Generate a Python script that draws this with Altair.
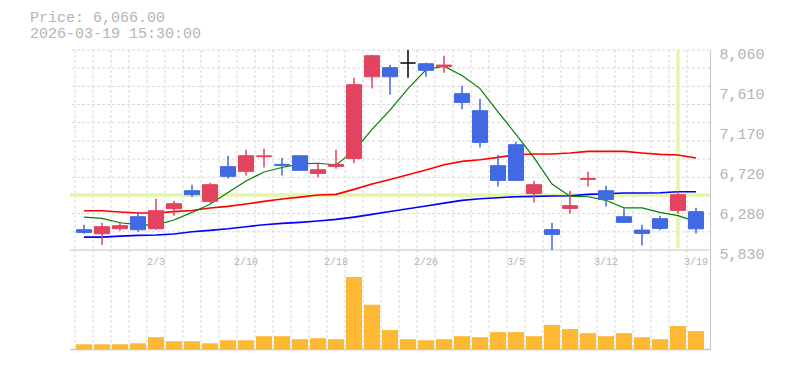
import altair as alt
import pandas as pd

# ---------------- data ----------------
dates = ["2026-01-28", "2026-01-29", "2026-01-30", "2026-02-02", "2026-02-03",
         "2026-02-04", "2026-02-05", "2026-02-06", "2026-02-09", "2026-02-10",
         "2026-02-12", "2026-02-13", "2026-02-16", "2026-02-17", "2026-02-18",
         "2026-02-19", "2026-02-20", "2026-02-24", "2026-02-25", "2026-02-26",
         "2026-02-27", "2026-03-02", "2026-03-03", "2026-03-04", "2026-03-05",
         "2026-03-06", "2026-03-09", "2026-03-10", "2026-03-11", "2026-03-12",
         "2026-03-13", "2026-03-16", "2026-03-17", "2026-03-18", "2026-03-19"]

open_ = [6056, 6011, 6067, 6201, 6067, 6290, 6491, 6372, 6759, 6707,
         6870, 6785, 6881, 6684, 6762, 6851, 7762, 7863, 7915, 7907,
         7874, 7573, 7383, 6770, 7004, 6461, 6056, 6294, 6617, 6491,
         6201, 6052, 6179, 6272, 6257]
high = [6112, 6134, 6145, 6257, 6402, 6379, 6558, 6580, 6881, 6948,
        6959, 6859, 6885, 6803, 6948, 7751, 8007, 7896, 8060, 7918,
        7996, 7662, 7517, 6892, 7037, 6602, 6134, 6491, 6703, 6547,
        6294, 6112, 6212, 6484, 6301]
low = [6011, 5889, 6045, 6034, 6056, 6212, 6417, 6353, 6628, 6662,
       6751, 6662, 6715, 6640, 6740, 6796, 7632, 7565, 7751, 7762,
       7807, 7398, 6974, 6539, 6606, 6361, 5830, 6238, 6539, 6316,
       6138, 5881, 6049, 6238, 6015]
close = [6026, 6090, 6101, 6056, 6268, 6346, 6446, 6558, 6651, 6881,
         6880, 6773, 6718, 6725, 6785, 7673, 7996, 7762, 7915, 7833,
         7892, 7476, 7030, 6606, 6606, 6558, 6004, 6324, 6628, 6394,
         6138, 6015, 6071, 6446, 6066]

ma5 = [6197, 6182, 6134, 6112, 6108, 6164, 6249, 6340, 6470, 6600,
       6700, 6750, 6790, 6797, 6778, 6935, 7175, 7390, 7630, 7840,
       7880, 7775, 7630, 7370, 7120, 6860, 6565, 6430, 6424, 6384,
       6300, 6300, 6250, 6213, 6147]
ma25 = [6268, 6268, 6253, 6242, 6242, 6258, 6270, 6298, 6316, 6342,
        6372, 6398, 6420, 6443, 6450, 6506, 6565, 6617, 6669, 6721,
        6781, 6818, 6837, 6863, 6892, 6900, 6900, 6911, 6930, 6930,
        6930, 6911, 6896, 6889, 6855]
ma75 = [5974, 5974, 5985, 5993, 5997, 6008, 6034, 6049, 6067, 6090,
        6112, 6127, 6138, 6153, 6171, 6197, 6227, 6260, 6290, 6320,
        6353, 6383, 6402, 6413, 6424, 6428, 6432, 6435, 6450, 6458,
        6465, 6465, 6469, 6480, 6480]

volume = [140, 140, 140, 170, 350, 230, 230, 170, 260, 260,
          380, 380, 290, 320, 290, 2130, 1310, 560, 290, 260,
          290, 380, 350, 500, 500, 380, 710, 590, 470, 380,
          470, 350, 290, 680, 530]

x_tick_dates = ["2026-02-03", "2026-02-10", "2026-02-18", "2026-02-26",
                "2026-03-05", "2026-03-12", "2026-03-19"]
x_tick_labels = ["2/3", "2/10", "2/18", "2/26", "3/5", "3/12", "3/19"]

price_ticks = [5830, 6276, 6722, 7168, 7614, 8060]
grid_prices = [5830 + k * (8060 - 5830) / 11 for k in range(1, 12)]

cursor_idx = 33
cursor_price = 6443
header_price = "Price: 6,066.00"
header_time = "2026-03-19 15:30:00"

# ---------------- layout ----------------
n = len(dates)
W, H = 640, 299
PRICE_H = 200
y_top, y_bot = 8060, 5830
y_low = y_bot - (H - PRICE_H) / PRICE_H * (y_top - y_bot)

RED = "#e2435f"
BLUE = "#4169e1"
GRID = "#d9d9d9"
AXIS = "#c4c4c4"
TEXT = "#b4b4b4"
FONT = "Liberation Mono"
CROSS = "#e3f6a9"

df = pd.DataFrame({"idx": list(range(n)), "date": dates, "open": open_,
                   "high": high, "low": low, "close": close,
                   "ma5": ma5, "ma25": ma25, "ma75": ma75, "volume": volume})
df["dir"] = ["up" if c > o else ("down" if c < o else "flat")
             for o, c in zip(open_, close)]

xsc = alt.Scale(domain=[-0.5, n - 0.5], nice=False, zero=False)
xax = alt.Axis(labels=False, ticks=False, grid=False, domain=True,
               domainColor=AXIS, domainWidth=1.5, title=None)
ysc = alt.Scale(domain=[y_low, y_top], nice=False, zero=False)
yax = alt.Axis(orient="right", values=price_ticks,
               labelExpr="format(round(datum.value/10)*10, ',')",
               grid=False, ticks=False, domain=True, domainColor=AXIS,
               labelColor=TEXT, labelFont=FONT, labelFontSize=15,
               labelPadding=9, labelOffset=3, labelBaseline="middle",
               title=None)


def X(f):
    return alt.X(f"{f}:Q", scale=xsc, axis=xax)


def Y(f):
    return alt.Y(f"{f}:Q", scale=ysc, axis=yax)


dir_scale = alt.Scale(domain=["up", "down", "flat"], range=[RED, BLUE, "black"])
color = alt.Color("dir:N", scale=dir_scale, legend=None)

vgrid_df = pd.DataFrame({"gx": [k - 0.5 for k in range(n)]})
vgrid = alt.Chart(vgrid_df).mark_rule(color=GRID, strokeDash=[3, 2], strokeWidth=1).encode(x=X("gx"))

hgrid_df = pd.DataFrame({"gy": grid_prices})
hgrid = alt.Chart(hgrid_df).mark_rule(color=GRID, strokeDash=[3, 2], strokeWidth=1).encode(y=Y("gy"))

base_df = pd.DataFrame({"by": [y_bot]})
baseline = alt.Chart(base_df).mark_rule(color=AXIS, strokeWidth=1.2).encode(y=Y("by"))

ch_df = pd.DataFrame({"cy": [cursor_price]})
cross_h = alt.Chart(ch_df).mark_rule(color=CROSS, strokeWidth=3.5).encode(y=Y("cy"))
cv_df = pd.DataFrame({"cx": [cursor_idx], "top": [y_top], "bot": [y_bot + 20]})
cross_v = alt.Chart(cv_df).mark_rule(color=CROSS, strokeWidth=3.5).encode(
    x=X("cx"), y=Y("top"), y2=alt.Y2("bot"))

base = alt.Chart(df)
l75 = base.mark_line(color="#0000ff", strokeWidth=1.6).encode(x=X("idx"), y=Y("ma75"))
l25 = base.mark_line(color="#ff0000", strokeWidth=1.6).encode(x=X("idx"), y=Y("ma25"))
l5 = base.mark_line(color="#008000", strokeWidth=1.2).encode(x=X("idx"), y=Y("ma5"))

wicks = base.mark_rule(strokeWidth=1.5).encode(x=X("idx"), y=Y("low"), y2=alt.Y2("high"), color=color)
bodies = base.mark_bar(width=15, strokeWidth=1).encode(
    x=X("idx"), y=Y("open"), y2=alt.Y2("close"), color=color,
    stroke=alt.Stroke("dir:N", scale=dir_scale, legend=None))

xl_df = pd.DataFrame({"idx": [dates.index(d) for d in x_tick_dates],
                      "label": x_tick_labels, "ly": [y_bot] * len(x_tick_dates)})
xlabels = alt.Chart(xl_df).mark_text(font=FONT, fontSize=10, color=TEXT,
                                     baseline="middle", dy=12).encode(
    x=X("idx"), y=Y("ly"), text="label:N")

h1 = alt.Chart(pd.DataFrame({"t": [header_price]})).mark_text(
    font=FONT, fontSize=15, color=TEXT, align="left", baseline="alphabetic").encode(
    text="t:N", x=alt.value(-40), y=alt.value(-28))
h2 = alt.Chart(pd.DataFrame({"t": [header_time]})).mark_text(
    font=FONT, fontSize=15, color=TEXT, align="left", baseline="alphabetic").encode(
    text="t:N", x=alt.value(-40), y=alt.value(-12))

price = alt.layer(vgrid, hgrid, baseline, cross_h, cross_v, l75, l25, l5,
                  wicks, bodies, xlabels, h1, h2)

vmax = max(volume)
vol = base.mark_bar(width=16, color="#fdb933").encode(
    x=X("idx"),
    y=alt.Y("volume:Q", scale=alt.Scale(domain=[0, vmax * H / 72], nice=False, zero=True),
            axis=None))

chart = alt.layer(price, vol).resolve_scale(y="independent", stroke="independent").properties(
    width=W, height=H,
    padding={"left": 62, "top": 42, "right": 60, "bottom": 10},
    autosize=alt.AutoSizeParams(type="none"),
    background="white",
).configure_view(stroke=None)

chart.save("out.html", embed_options={"renderer": "svg", "actions": False})
